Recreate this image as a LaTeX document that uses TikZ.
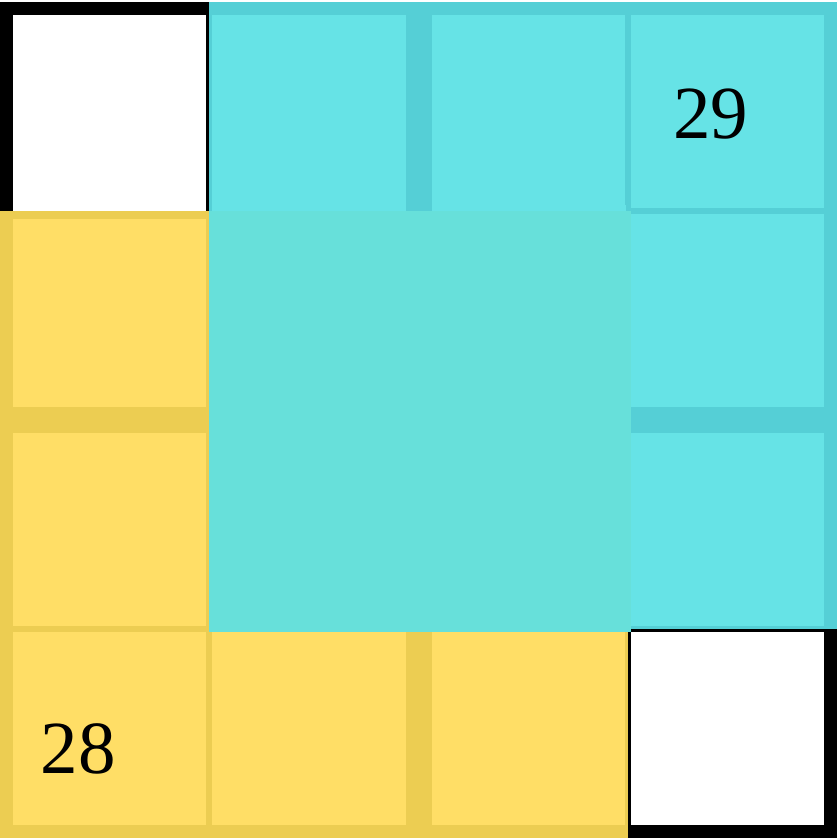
\documentclass[tikz,border=0pt]{standalone}
\usepackage{fontspec}
\setmainfont{Liberation Serif}
\usepackage{xcolor}
\usetikzlibrary{calc}
\definecolor{cyanlight}{HTML}{66E3E6}
\definecolor{cyandark}{HTML}{55CFD6}
\definecolor{tealmid}{HTML}{67E0DA}
\definecolor{yellowlight}{HTML}{FFDE66}
\definecolor{yellowdark}{HTML}{ECCD52}

\begin{document}
\begin{tikzpicture}[x=1pt, y=-1pt,
  numlabel/.style={inner sep=0pt, anchor=base, font=\fontsize{75}{75}\selectfont}]
\useasboundingbox (0,0) rectangle (837,838);
% ---------- cells: dark frame, light face ----------
% frame is 13 on the sides of a 2x2 box, 3 inside it
\foreach \c/\r/\dk/\lt in {0/0/black/white, 1/0/cyandark/cyanlight,
    2/0/cyandark/cyanlight, 3/0/cyandark/cyanlight,
    0/1/yellowdark/yellowlight, 3/1/cyandark/cyanlight,
    0/2/yellowdark/yellowlight, 3/2/cyandark/cyanlight,
    0/3/yellowdark/yellowlight, 1/3/yellowdark/yellowlight,
    2/3/yellowdark/yellowlight, 3/3/black/white}{
  \pgfmathsetmacro\il{ifthenelse(mod(\c,2)==0,13,3)}
  \pgfmathsetmacro\ir{ifthenelse(mod(\c,2)==0,3,13)}
  \pgfmathsetmacro\it{ifthenelse(mod(\r,2)==0,13,3)}
  \pgfmathsetmacro\ib{ifthenelse(mod(\r,2)==0,3,13)}
  \fill[\dk] (\c*209.25, 2+\r*209) rectangle ++(209.25,209);
  \fill[\lt] (\c*209.25+\il, 2+\r*209+\it)
     rectangle (\c*209.25+209.25-\ir, 2+\r*209+209-\ib);
}
% open bottoms of the top row over the block
\fill[white] (13,205) rectangle (206.25,211);
\fill[cyanlight] (212.25,205) rectangle (405.5,211);
\fill[cyanlight] (431.5,205) rectangle (625.5,211);
\fill[yellowdark] (0,211) rectangle (209.25,219);
% ---------- middle block ----------
\fill[tealmid] (209.25,211) rectangle (631,632);
% ---------- numbers ----------
\node[numlabel] (n29) at (710.5,138) {29};
\node[numlabel] (n28) at (78,773) {28};
\end{tikzpicture}
\end{document}
